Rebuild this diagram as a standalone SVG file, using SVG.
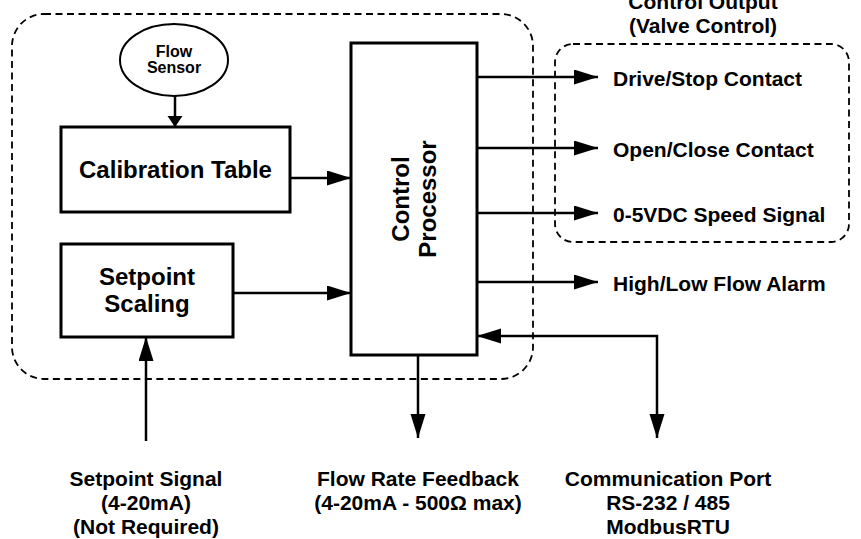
<svg xmlns="http://www.w3.org/2000/svg" width="861" height="539" viewBox="0 0 861 539">
<defs>
<style>
text{font-family:"Liberation Sans",Arial,Helvetica,sans-serif;font-weight:bold;fill:#000}
.box{fill:#fff;stroke:#000;stroke-width:3}
.grp{fill:none;stroke:#000;stroke-width:1.8;stroke-dasharray:7 4.5}
.con{fill:none;stroke:#000;stroke-width:2.5}
.lbl{font-size:21px}
.big{font-size:24px}
.sm{font-size:16px}
.mid{text-anchor:middle}
</style>
<marker id="ah" markerUnits="userSpaceOnUse" markerWidth="26" markerHeight="16" refX="24" refY="7.5" orient="auto-start-reverse">
<path d="M0,0 L24,7.5 L0,15 Z" fill="#000"/>
</marker>
<marker id="ahs" markerUnits="userSpaceOnUse" markerWidth="14" markerHeight="16" refX="11" refY="7.5" orient="auto">
<path d="M0,0 L11,7.5 L0,15 Z" fill="#000"/>
</marker>
</defs>
<rect width="861" height="539" fill="#fff"/>

<g id="groups">
<rect class="grp" x="12" y="14" width="521" height="365" rx="32" ry="32"/>
<rect class="grp" x="555" y="44" width="294" height="198" rx="18" ry="18"/>
</g>

<g id="control-output-title">
<text class="lbl mid" x="703" y="9">Control Output</text>
<text class="lbl mid" x="703" y="33">(Valve Control)</text>
</g>

<g id="connectors">
<line class="con" x1="175" y1="96" x2="175" y2="127" marker-end="url(#ahs)"/>
<line class="con" x1="290" y1="178" x2="351" y2="178" marker-end="url(#ah)"/>
<line class="con" x1="233" y1="293" x2="351" y2="293" marker-end="url(#ah)"/>
<line class="con" x1="146" y1="441" x2="146" y2="337" marker-end="url(#ah)"/>
<line class="con" x1="418" y1="355" x2="418" y2="438" marker-end="url(#ah)"/>
<line class="con" x1="477" y1="77" x2="598" y2="77" marker-end="url(#ah)"/>
<line class="con" x1="477" y1="148" x2="598" y2="148" marker-end="url(#ah)"/>
<line class="con" x1="477" y1="213" x2="598" y2="213" marker-end="url(#ah)"/>
<line class="con" x1="477" y1="282" x2="598" y2="282" marker-end="url(#ah)"/>
<path class="con" d="M657,438 L657,336 L477,336" marker-start="url(#ah)" marker-end="url(#ah)"/>
</g>

<g id="flow-sensor">
<ellipse cx="174" cy="60" rx="54" ry="36" fill="#fff" stroke="#000" stroke-width="2"/>
<text class="sm mid" x="174" y="57">Flow</text>
<text class="sm mid" x="174" y="73">Sensor</text>
</g>

<g id="calibration-table">
<rect class="box" x="61" y="127" width="229" height="85"/>
<text class="big mid" x="175.5" y="178">Calibration Table</text>
</g>

<g id="setpoint-scaling">
<rect class="box" x="61" y="244" width="172" height="93"/>
<text class="big mid" x="147" y="285">Setpoint</text>
<text class="big mid" x="147" y="312">Scaling</text>
</g>

<g id="control-processor">
<rect class="box" x="351" y="43" width="126" height="312"/>
<text class="big mid" transform="translate(414,199) rotate(-90)"><tspan x="0" y="-5">Control</tspan><tspan x="0" y="22">Processor</tspan></text>
</g>

<g id="out-drive-stop"><text class="lbl" x="613" y="86">Drive/Stop Contact</text></g>
<g id="out-open-close"><text class="lbl" x="613" y="157">Open/Close Contact</text></g>
<g id="out-speed"><text class="lbl" x="613" y="222">0-5VDC Speed Signal</text></g>
<g id="out-alarm"><text class="lbl" x="613" y="291">High/Low Flow Alarm</text></g>

<g id="setpoint-signal">
<text class="lbl mid" x="146" y="486">Setpoint Signal</text>
<text class="lbl mid" x="146" y="510">(4-20mA)</text>
<text class="lbl mid" x="146" y="534">(Not Required)</text>
</g>

<g id="flow-rate-feedback">
<text class="lbl mid" x="418" y="486">Flow Rate Feedback</text>
<text class="lbl mid" x="418" y="510">(4-20mA - 500Ω max)</text>
</g>

<g id="communication-port">
<text class="lbl mid" x="668" y="486">Communication Port</text>
<text class="lbl mid" x="668" y="510">RS-232 / 485</text>
<text class="lbl mid" x="668" y="534">ModbusRTU</text>
</g>
</svg>
